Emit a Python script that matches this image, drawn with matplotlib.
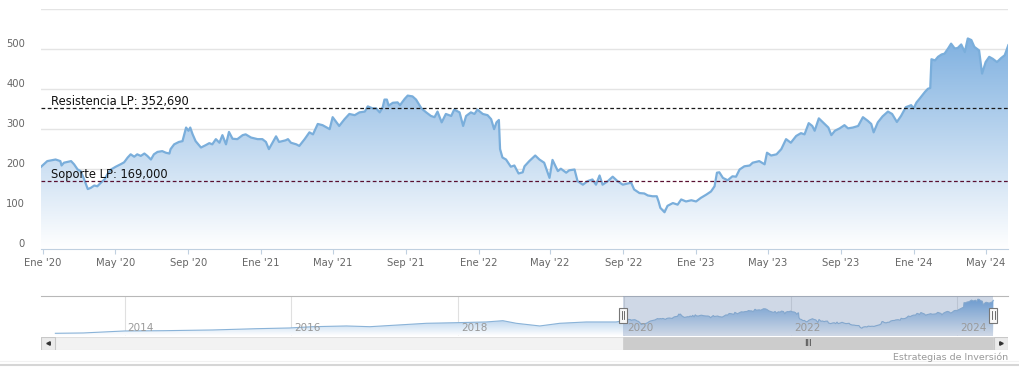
import numpy as np
import pandas as pd
import matplotlib
matplotlib.use('Agg')
import matplotlib.pyplot as plt
import matplotlib.dates as mdates
from matplotlib.colors import LinearSegmentedColormap
from matplotlib.patches import Rectangle
from matplotlib.lines import Line2D
from matplotlib.transforms import blended_transform_factory, ScaledTranslation

# Price history shown in the main chart
dates_2020 = ['2019-12-28', '2020-01-08', '2020-01-22', '2020-01-30', '2020-02-01', '2020-02-05',
              '2020-02-17', '2020-02-22', '2020-02-28', '2020-03-04', '2020-03-10', '2020-03-16',
              '2020-03-21', '2020-03-27', '2020-04-01', '2020-04-07', '2020-04-13', '2020-04-18',
              '2020-04-24', '2020-05-02', '2020-05-10', '2020-05-16', '2020-05-22', '2020-05-27',
              '2020-06-02', '2020-06-07', '2020-06-13', '2020-06-19', '2020-06-24', '2020-06-30',
              '2020-07-05', '2020-07-11', '2020-07-19', '2020-07-25', '2020-07-31', '2020-08-02',
              '2020-08-08', '2020-08-16', '2020-08-22', '2020-08-25', '2020-08-28', '2020-09-01',
              '2020-09-04', '2020-09-08', '2020-09-13', '2020-09-22', '2020-09-30', '2020-10-06',
              '2020-10-11', '2020-10-17', '2020-10-23', '2020-10-28', '2020-11-03', '2020-11-08',
              '2020-11-14', '2020-11-22', '2020-12-01', '2020-12-06', '2020-12-15', '2020-12-26']
close_2020 = [205, 220, 224, 220, 209, 216, 220, 212, 199, 195, 174, 150, 153, 159, 157, 166, 174, 187,
              199, 206, 212, 217, 229, 237, 231, 237, 233, 239, 233, 224, 237, 243, 245, 241, 239, 250,
              262, 268, 270, 287, 304, 296, 304, 287, 270, 254, 260, 265, 262, 275, 266, 285, 262, 293,
              276, 275, 285, 287, 279, 275]

dates_2021 = ['2021-01-03', '2021-01-09', '2021-01-14', '2021-01-20', '2021-01-26', '2021-01-31',
              '2021-02-11', '2021-02-15', '2021-02-20', '2021-03-01', '2021-03-06', '2021-03-15',
              '2021-03-23', '2021-03-29', '2021-04-06', '2021-04-14', '2021-04-26', '2021-05-01',
              '2021-05-07', '2021-05-12', '2021-05-21', '2021-05-29', '2021-06-07', '2021-06-15',
              '2021-06-24', '2021-06-29', '2021-07-07', '2021-07-13', '2021-07-19', '2021-07-24',
              '2021-07-27', '2021-07-31', '2021-08-03', '2021-08-10', '2021-08-18', '2021-08-22',
              '2021-08-30', '2021-09-04', '2021-09-12', '2021-09-18', '2021-09-27', '2021-10-05',
              '2021-10-13', '2021-10-19', '2021-10-24', '2021-10-31', '2021-11-07', '2021-11-16',
              '2021-11-21', '2021-11-30', '2021-12-06', '2021-12-11', '2021-12-19', '2021-12-25',
              '2021-12-30']
close_2021 = [275, 268, 250, 266, 282, 268, 272, 275, 266, 262, 258, 275, 292, 287, 313, 310, 300, 330,
              318, 308, 325, 338, 335, 342, 344, 357, 352, 352, 342, 355, 374, 374, 359, 366, 367, 360,
              376, 384, 382, 374, 352, 342, 333, 330, 344, 317, 338, 333, 349, 342, 308, 333, 342, 338,
              349]

dates_2022 = ['2022-01-08', '2022-01-16', '2022-01-22', '2022-01-27', '2022-01-31', '2022-02-04',
              '2022-02-06', '2022-02-10', '2022-02-16', '2022-02-24', '2022-03-02', '2022-03-09',
              '2022-03-16', '2022-03-19', '2022-03-27', '2022-04-06', '2022-04-13', '2022-04-21',
              '2022-04-30', '2022-05-05', '2022-05-14', '2022-05-19', '2022-05-28', '2022-06-02',
              '2022-06-11', '2022-06-16', '2022-06-25', '2022-07-03', '2022-07-11', '2022-07-17',
              '2022-07-23', '2022-07-28', '2022-08-06', '2022-08-14', '2022-08-22', '2022-08-31',
              '2022-09-08', '2022-09-14', '2022-09-19', '2022-09-28', '2022-10-06', '2022-10-12',
              '2022-10-20', '2022-10-27', '2022-10-30', '2022-11-02', '2022-11-09', '2022-11-14',
              '2022-11-23', '2022-12-01', '2022-12-07', '2022-12-15', '2022-12-24']
close_2022 = [338, 335, 325, 300, 317, 323, 250, 229, 224, 206, 209, 189, 192, 207, 220, 234, 224, 216,
              178, 223, 195, 201, 191, 197, 199, 170, 161, 170, 174, 161, 184, 161, 170, 181, 170, 161,
              164, 166, 149, 140, 139, 134, 132, 132, 119, 103, 92, 108, 115, 111, 124, 119, 122]

dates_2023 = ['2023-01-01', '2023-01-09', '2023-01-18', '2023-01-26', '2023-02-01', '2023-02-05',
              '2023-02-09', '2023-02-15', '2023-02-23', '2023-03-03', '2023-03-09', '2023-03-15',
              '2023-03-23', '2023-04-01', '2023-04-06', '2023-04-17', '2023-04-26', '2023-04-30',
              '2023-05-07', '2023-05-16', '2023-05-24', '2023-06-01', '2023-06-09', '2023-06-18',
              '2023-06-26', '2023-07-02', '2023-07-09', '2023-07-15', '2023-07-19', '2023-07-26',
              '2023-08-02', '2023-08-11', '2023-08-16', '2023-08-22', '2023-08-30', '2023-09-07',
              '2023-09-13', '2023-09-21', '2023-09-30', '2023-10-08', '2023-10-16', '2023-10-22',
              '2023-10-26', '2023-11-02', '2023-11-10', '2023-11-19', '2023-11-26', '2023-12-04',
              '2023-12-11', '2023-12-19', '2023-12-28']
close_2023 = [119, 128, 136, 144, 157, 191, 192, 178, 172, 182, 181, 199, 207, 209, 216, 220, 212, 241,
              234, 237, 250, 275, 266, 283, 290, 287, 315, 308, 296, 327, 317, 304, 285, 296, 302, 310,
              302, 304, 308, 330, 321, 313, 292, 317, 332, 344, 338, 318, 333, 355, 360]

dates_2024 = ['2024-01-01', '2024-01-06', '2024-01-11', '2024-01-20', '2024-01-25', '2024-01-29',
              '2024-01-31', '2024-02-06', '2024-02-11', '2024-02-17', '2024-02-22', '2024-02-28',
              '2024-03-04', '2024-03-10', '2024-03-15', '2024-03-21', '2024-03-27', '2024-04-01',
              '2024-04-07', '2024-04-12', '2024-04-20', '2024-04-25', '2024-05-01', '2024-05-07',
              '2024-05-13', '2024-05-20', '2024-05-27', '2024-06-02', '2024-06-08']
close_2024 = [352, 367, 376, 393, 401, 403, 475, 472, 481, 487, 489, 502, 514, 502, 503, 512, 493, 527,
              523, 506, 497, 439, 468, 481, 476, 468, 478, 485, 510]

# Older history, only visible in the navigator
hist_dates = ['2013-03-03', '2013-07-03', '2013-10-28', '2014-01-01', '2014-06-19', '2015-01-22',
              '2015-08-02', '2015-12-26', '2016-04-05', '2016-08-31', '2016-12-12', '2017-03-24',
              '2017-08-17', '2017-12-26', '2018-05-06', '2018-07-18', '2018-09-15', '2018-12-27',
              '2019-03-25', '2019-07-19', '2019-11-27']
hist_close = [16, 21, 40, 51, 55, 66, 85, 96, 115, 126, 115, 136, 166, 175, 186, 205, 166, 126, 166,
              186, 186]

# Long term levels
resistencia = 352.690
soporte = 169.000
level_labels = ['Resistencia LP: 352,690', 'Soporte LP: 169,000']

# Axis ticks
y_ticks = [0, 100, 200, 300, 400, 500, 600]
y_tick_labels = ['0', '100', '200', '300', '400', '500', '']
x_tick_dates = ['2020-01-01', '2020-05-01', '2020-09-01', '2021-01-01', '2021-05-01', '2021-09-01',
                '2022-01-01', '2022-05-01', '2022-09-01', '2023-01-01', '2023-05-01', '2023-09-01',
                '2024-01-01', '2024-05-01']
x_tick_labels = ["Ene '20", "May '20", "Sep '20", "Ene '21", "May '21", "Sep '21", "Ene '22",
                 "May '22", "Sep '22", "Ene '23", "May '23", "Sep '23", "Ene '24", "May '24"]
nav_years = ['2014', '2016', '2018', '2020', '2022', '2024']
nav_range = ['2012-12-30', '2024-08-11']
credit = 'Estrategias de Inversión'


dates = pd.to_datetime(dates_2020 + dates_2021 + dates_2022 + dates_2023 + dates_2024)
close = np.array(close_2020 + close_2021 + close_2022 + close_2023 + close_2024, dtype=float)
xn = mdates.date2num(dates)

nav_x = np.concatenate([mdates.date2num(pd.to_datetime(hist_dates)), xn])
nav_y = np.concatenate([np.array(hist_close, dtype=float), close])

W, H = 1019, 381
fig = plt.figure(figsize=(W / 100, H / 100), dpi=100)
fig.patch.set_facecolor('white')


def fig_box(x0, y0, x1, y1):
    # pixel box (top-left origin) -> figure fraction rect
    return [x0 / W, 1 - y1 / H, (x1 - x0) / W, (y1 - y0) / H]


def gradient_area(ax, x, y, base, top, color, zorder=1):
    poly = ax.fill_between(x, y, base, facecolor='none', edgecolor='none')
    cmap = LinearSegmentedColormap.from_list('fill', ['#ffffff', color])
    grad = np.linspace(1, 0, 256).reshape(-1, 1)
    im = ax.imshow(grad, cmap=cmap, vmin=0, vmax=1, aspect='auto', origin='upper',
                   extent=[x[0], x[-1], base, top], zorder=zorder, interpolation='bilinear')
    im.set_clip_path(poly.get_paths()[0], ax.transData)


# ---------------- Main chart ----------------
ax = fig.add_axes(fig_box(40.7, 9.3, 1008.3, 249))
gradient_area(ax, xn, close, 0, 600, '#6ea6dc')
ax.plot(xn, close, color='#7aaedb', lw=1.6, zorder=3, solid_joinstyle='round')

ax.axhline(resistencia, color='#1a1a1a', ls=(0, (3, 2)), lw=0.9, zorder=4)
ax.axhline(soporte, color='#5a1030', ls=(0, (3, 2)), lw=0.9, zorder=4)
lbl_trans = blended_transform_factory(ax.transAxes, ax.transData)
for val, txt in zip([resistencia, soporte], level_labels):
    ax.annotate(txt, xy=(0.0103, val), xycoords=lbl_trans, xytext=(0, 2.2),
                textcoords='offset points', va='baseline', ha='left',
                fontsize=8.3, color='#111111', zorder=5)

ax.set_xlim(xn[0], xn[-1])
ax.set_ylim(0, 600)
ax.set_yticks(y_ticks, y_tick_labels)
ax.set_xticks(mdates.date2num(pd.to_datetime(x_tick_dates)), x_tick_labels)
ax.grid(axis='y', color='#e4e4e4', lw=1)
ax.set_axisbelow(True)
ax.tick_params(axis='y', length=0, pad=11.3, labelsize=7.2, labelcolor='#666666')
ax.tick_params(axis='x', length=3.6, width=0.8, color='#C0D0E0', pad=3,
               labelsize=7.2, labelcolor='#666666')
for lbl in ax.get_yticklabels():
    lbl.set_transform(lbl.get_transform() + ScaledTranslation(0, 0.063, fig.dpi_scale_trans))
for side in ['top', 'left', 'right']:
    ax.spines[side].set_visible(False)
ax.spines['bottom'].set_color('#C0D0E0')

# ---------------- Navigator ----------------
sel_start, sel_end = xn[0], xn[-1]
nav_lo, nav_hi = mdates.date2num(pd.to_datetime(nav_range))

axn = fig.add_axes(fig_box(41, 296, 1008, 335.7))
gradient_area(axn, nav_x, nav_y, -20, 575, '#5c9ad8')
axn.plot(nav_x, nav_y, color='#8ab3d8', lw=0.8, zorder=3)
axn.add_patch(Rectangle((sel_start, -20), sel_end - sel_start, 595,
                        facecolor=(120 / 255, 145 / 255, 185 / 255, 0.35), edgecolor='none', zorder=4))
yr_nums = mdates.date2num(pd.to_datetime([y + '-01-01' for y in nav_years]))
yr_trans = blended_transform_factory(axn.transData, axn.transAxes)
for xv, yr in zip(yr_nums, nav_years):
    axn.axvline(xv, color='#e0e0e0', lw=0.8, zorder=0)
    axn.annotate(yr, xy=(xv, 0.2), xycoords=yr_trans, xytext=(2.2, 0), textcoords='offset points',
                 ha='left', va='center', fontsize=7.5, color='#999999', zorder=5)
axn.set_xlim(nav_lo, nav_hi)
axn.set_ylim(-20, 575)
axn.set_xticks([])
axn.set_yticks([])
for side in ['left', 'right', 'bottom']:
    axn.spines[side].set_visible(False)
axn.spines['top'].set_color('#b8b8b8')

# handles
for xv in [sel_start, sel_end]:
    tr = fig.dpi_scale_trans + ScaledTranslation(xv, 0.51, yr_trans)
    axn.add_patch(Rectangle((-0.04, -0.075), 0.08, 0.15, transform=tr, facecolor='#f8f8f8',
                            edgecolor='#777777', lw=0.8, zorder=6, clip_on=False))
    for dx in [-0.012, 0.012]:
        axn.add_line(Line2D([dx, dx], [-0.04, 0.04], transform=tr, color='#555555', lw=0.6,
                            zorder=7, clip_on=False))

# ---------------- Scrollbar ----------------
axs = fig.add_axes(fig_box(41, 336.7, 1008, 350))
axs.set_xlim(nav_lo, nav_hi)
axs.set_ylim(0, 1)
axs.axis('off')
axs.add_patch(Rectangle((0, 0), 1, 1, transform=axs.transAxes, facecolor='#f2f2f2',
                        edgecolor='#e0e0e0', lw=0.8))
axs.add_patch(Rectangle((sel_start, 0), sel_end - sel_start, 1, facecolor='#cccccc',
                        edgecolor='#cccccc', lw=0.5))
axs.text((sel_start + sel_end) / 2, 0.5, 'III', ha='center', va='center', fontsize=6,
         color='#333333')
bw = 14 / 967
for x0, mk in [(0, '<'), (1 - bw, '>')]:
    axs.add_patch(Rectangle((x0, 0), bw, 1, transform=axs.transAxes, facecolor='#ebebeb',
                            edgecolor='#c8c8c8', lw=0.8, zorder=3))
    axs.plot([x0 + bw / 2], [0.5], marker=mk, markersize=2.5, color='#333333',
             transform=axs.transAxes, zorder=4)

# credit and bottom border
fig.text(1008 / W, 1 - 357 / H, credit, ha='right', va='center', fontsize=6.8, color='#999999')
fig.add_artist(Line2D([0, 1], [1 - 361 / H] * 2, color='#f2f2f2', lw=0.8))
fig.add_artist(Line2D([0, 1], [1 - 365 / H] * 2, color='#d6d6d6', lw=1.5))

fig.savefig('out.png', dpi=100, facecolor='white')
